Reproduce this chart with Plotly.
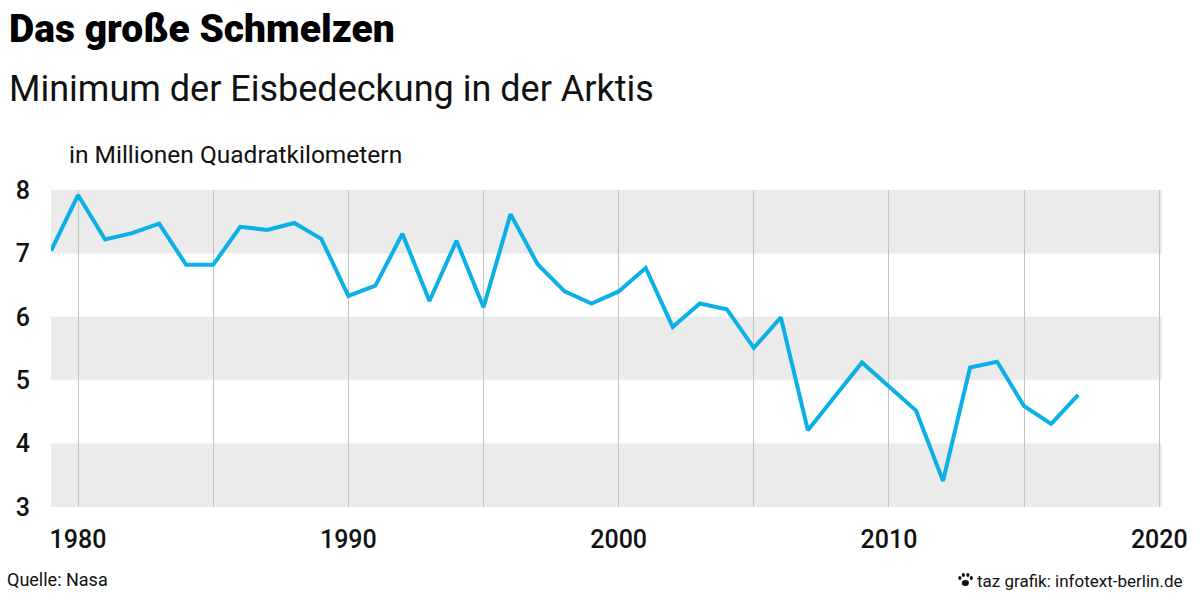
import plotly.graph_objects as go

years = list(range(1979, 2018))
extent = [7.04, 7.92, 7.22, 7.32, 7.47, 6.82, 6.82, 7.42, 7.37, 7.48,
          7.23, 6.33, 6.49, 7.31, 6.25, 7.20, 6.15, 7.62, 6.83, 6.40,
          6.21, 6.40, 6.77, 5.84, 6.21, 6.12, 5.51, 5.99, 4.21, 4.74,
          5.28, 4.90, 4.52, 3.41, 5.20, 5.29, 4.59, 4.31, 4.77]

x_ticks = [1980, 1990, 2000, 2010, 2020]
y_ticks = [3, 4, 5, 6, 7, 8]
band_starts = [3, 5, 7]

title = "Das große Schmelzen"
subtitle = "Minimum der Eisbedeckung in der Arktis"
unit = "in Millionen Quadratkilometern"
source = "Quelle: Nasa"
credit = "taz grafik: infotext-berlin.de"

FONT = "Roboto, sans-serif"
BLUE = "#0bb1e6"

# plot area in pixels
L, R, T, B = 51, 1164, 190, 507
PW, PH = R - L, B - T


def px(x):
    return (x - L) / PW


def py(y):
    return (B - y) / PH


fig = go.Figure()
fig.add_trace(go.Scatter(x=years, y=extent, mode="lines",
                         line=dict(color=BLUE, width=4), hoverinfo="x+y"))

for b in band_starts:
    fig.add_shape(type="rect", xref="paper", yref="y", x0=0, x1=1,
                  y0=b, y1=b + 1, fillcolor="#ebebeb", line_width=0,
                  layer="below")

# little paw in front of the credit line
paw = [(967, 583, 3.6, 3.0), (961.5, 578, 1.6, 1.9), (965, 575, 1.6, 1.9),
       (969.5, 575, 1.6, 1.9), (973, 578, 1.6, 1.9)]
for cx, cy, rx, ry in paw:
    fig.add_shape(type="circle", xref="paper", yref="paper",
                  x0=px(cx - rx), x1=px(cx + rx), y0=py(cy + ry), y1=py(cy - ry),
                  fillcolor="#111111", line_width=0)

tick_font = dict(size=25, family=FONT, weight=500, color="#111")

fig.update_layout(
    width=1200, height=600,
    margin=dict(l=L, r=1200 - R, t=T, b=600 - B),
    paper_bgcolor="white", plot_bgcolor="white",
    showlegend=False,
    font=dict(family=FONT, color="#111111"),
    xaxis=dict(range=[1979, 2020.1], tickvals=x_ticks, showgrid=True,
               gridcolor="#c4c4c4", gridwidth=1, zeroline=False,
               showline=False, ticks="", ticklabelstandoff=15,
               tickfont=tick_font,
               minor=dict(tick0=1980, dtick=5, showgrid=True,
                          gridcolor="#c4c4c4", gridwidth=1)),
    yaxis=dict(range=[3, 8], tickvals=y_ticks, showgrid=False,
               zeroline=False, showline=False, ticks="",
               ticklabelstandoff=20, tickfont=tick_font),
)

fig.add_annotation(text=title, xref="paper", yref="paper",
                   x=px(7), y=py(4), xanchor="left", yanchor="top",
                   showarrow=False,
                   font=dict(size=39, family=FONT, weight=900, color="#000"))
fig.add_annotation(text=subtitle, xref="paper", yref="paper",
                   x=px(7), y=py(66), xanchor="left", yanchor="top",
                   showarrow=False, font=dict(size=36, family=FONT, color="#111"))
fig.add_annotation(text=unit, xref="paper", yref="paper",
                   x=px(67), y=py(138), xanchor="left", yanchor="top",
                   showarrow=False, font=dict(size=24.5, family=FONT, color="#111"))
fig.add_annotation(text=source, xref="paper", yref="paper",
                   x=px(5), y=py(567), xanchor="left", yanchor="top",
                   showarrow=False, font=dict(size=18, family=FONT, color="#111"))
fig.add_annotation(text=credit, xref="paper", yref="paper",
                   x=px(1187), y=py(569), xanchor="right", yanchor="top",
                   showarrow=False, font=dict(size=17, family=FONT, color="#111"))

fig.write_html("out.html", config={"displayModeBar": False},
               post_script="document.body.style.margin='0';")
